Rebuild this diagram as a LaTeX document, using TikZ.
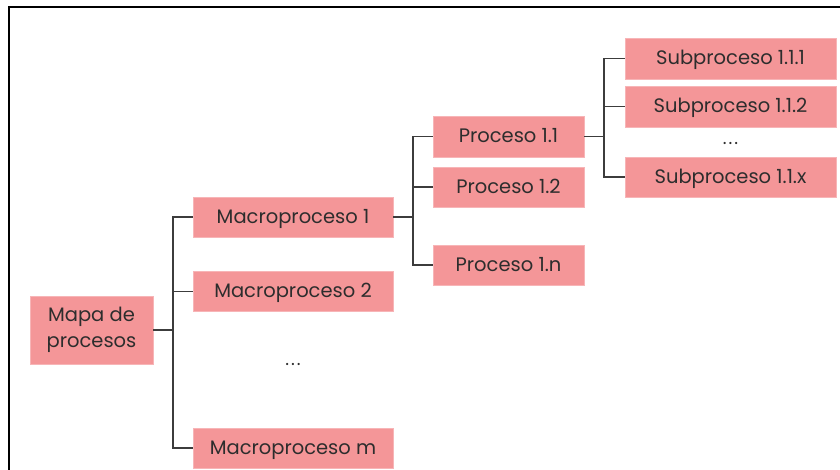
\documentclass[tikz,border=0pt]{standalone}
\usepackage{fontspec}
\setmainfont{Poppins}
\definecolor{boxpink}{RGB}{244,150,152}
\definecolor{txtgray}{RGB}{45,45,45}
\definecolor{linegray}{RGB}{60,60,60}
\tikzset{
  pbox/.style={fill=boxpink, draw=boxpink!70!white, line width=0.6pt, text=txtgray, font=\fontsize{19.5}{26}\selectfont, inner sep=0pt, anchor=center},
  onel/.style={text height=14pt, text depth=1.5pt},
  conn/.style={draw=linegray, line width=1.3pt},
  dots/.style={text=txtgray, font=\fontsize{18}{20}\selectfont}
}
\begin{document}
\begin{tikzpicture}[x=1pt,y=-1pt]
\useasboundingbox (0,0) rectangle (840,470);
\draw[line width=2.6pt] (9,470) -- (9,7) -- (840,7);
% root
\node[pbox, minimum width=123pt, minimum height=68pt, align=center] (root) at (91.5,330) {Mapa de\\procesos};
% level 1
\node[pbox, onel, minimum width=200pt, minimum height=40pt] (m1) at (293,217) {Macroproceso 1};
\node[pbox, onel, minimum width=200pt, minimum height=40pt] (m2) at (293,291.5) {Macroproceso 2};
\node[dots] (md) at (293,364) {.\kern2pt.\kern2pt.};
\node[pbox, onel, minimum width=200pt, minimum height=40pt] (mm) at (293,448) {Macroproceso m};
% level 2
\node[pbox, onel, minimum width=151pt, minimum height=41pt] (p1) at (508.5,136.5) {Proceso 1.1};
\node[pbox, onel, minimum width=151pt, minimum height=40pt] (p2) at (508.5,187) {Proceso 1.2};
\node[pbox, onel, minimum width=151pt, minimum height=40pt] (pn) at (508.5,265) {Proceso 1.n};
% level 3
\node[pbox, onel, minimum width=211pt, minimum height=41pt] (s1) at (730.5,58.5) {Subproceso 1.1.1};
\node[pbox, onel, minimum width=211pt, minimum height=41pt] (s2) at (730.5,106.5) {Subproceso 1.1.2};
\node[dots] (sd) at (730.5,143) {.\kern2pt.\kern2pt.};
\node[pbox, onel, minimum width=211pt, minimum height=40pt] (sx) at (730.5,177) {Subproceso 1.1.x};
% trunk coordinates
\coordinate (t1) at (173,0);
\coordinate (t2) at (413,0);
\coordinate (t3) at (604,0);
% connectors
\draw[conn] (root.east) -- (root.east -| t1);
\draw[conn] (m1.west) -| (mm.west -| t1) -- (mm.west);
\draw[conn] (m2.west) -- (m2.west -| t1);
\draw[conn] (m1.east) -- (m1.east -| t2);
\draw[conn] (p1.west) -| (pn.west -| t2) -- (pn.west);
\draw[conn] (p2.west) -- (p2.west -| t2);
\draw[conn] (p1.east) -- (p1.east -| t3);
\draw[conn] (s1.west) -| (sx.west -| t3) -- (sx.west);
\draw[conn] (s2.west) -- (s2.west -| t3);
\end{tikzpicture}
\end{document}
